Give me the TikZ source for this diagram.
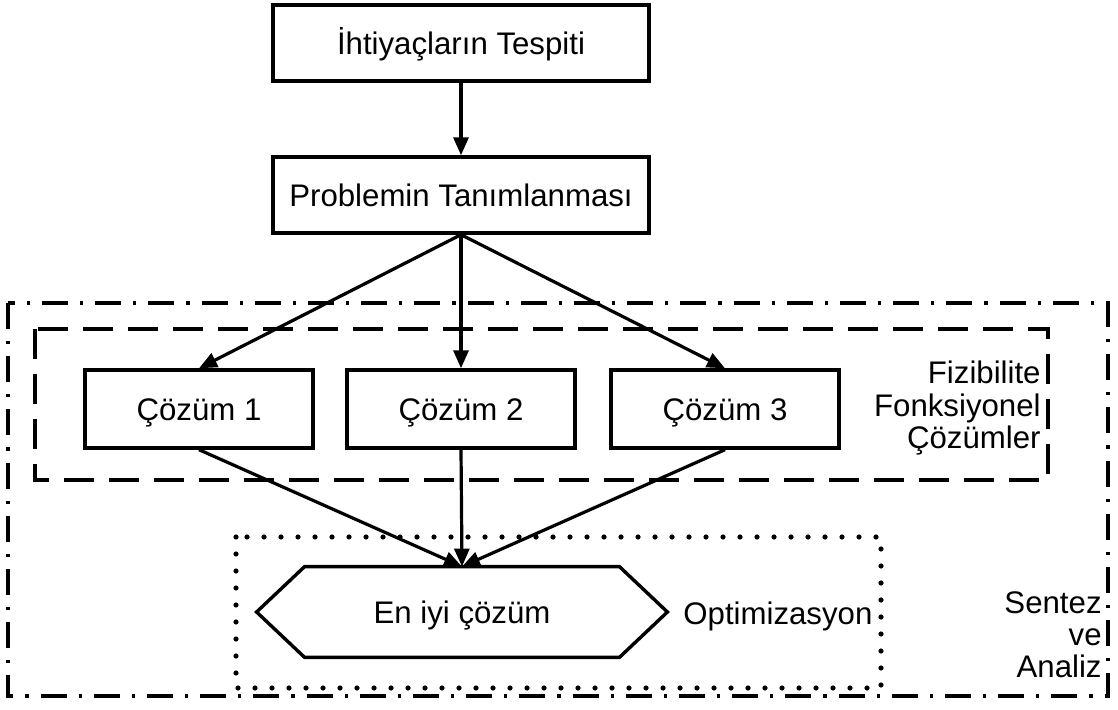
\documentclass[tikz,border=0pt]{standalone}
\usepackage{fontspec}
\setmainfont{Liberation Sans}
\usetikzlibrary{arrows.meta}
\begin{document}
\begin{tikzpicture}[x=0.5pt,y=-0.5pt,
  every node/.style={font=\fontsize{15.6pt}{19pt}\selectfont},
  centred/.style={text height=11.2pt, text depth=0pt},
  box/.style={draw, centred, line width=1.7pt, minimum width=188pt, minimum height=38pt, inner sep=0pt},
  solbox/.style={draw, centred, line width=1.7pt, minimum width=114pt, minimum height=39pt, inner sep=0pt},
  hexbox/.style={centred, minimum width=205pt, minimum height=45pt, inner sep=0pt},
  hexline/.style={line width=1.7pt, line join=miter},
  arr/.style={line width=1.6pt, -{Triangle[length=9pt,width=7.5pt]}},
  dashdotframe/.style={line width=1.6pt, dash pattern=on 13pt off 6pt on 1.6pt off 6pt},
  dashframe/.style={line width=1.6pt, dash pattern=on 15pt off 7.5pt},
  dotframe/.style={line width=2.6pt, line cap=round, dash pattern=on 0pt off 8.5pt},
  lbl/.style={inner sep=0pt}
]
\useasboundingbox (0,0) rectangle (1118,710);

% frames
\draw[dashdotframe] (8,303) rectangle (1108,696);
\draw[dashframe] (35,329) rectangle (1048,480);
\draw[dotframe] (236,537) rectangle (881,688);

% nodes
\node[box] (need) at (461,43) {İhtiyaçların Tespiti};
\node[box] (prob) at (461,195) {Problemin Tanımlanması};
\node[solbox] (c1) at (199,409) {Çözüm 1};
\node[solbox] (c2) at (461,409) {Çözüm 2};
\node[solbox] (c3) at (725,409) {Çözüm 3};
\node[hexbox] (best) at (462,612) {En iyi çözüm};
\draw[hexline] (best.west) -- ([xshift=24pt]best.north west) -- ([xshift=-24pt]best.north east)
  -- (best.east) -- ([xshift=-24pt]best.south east) -- ([xshift=24pt]best.south west) -- cycle;

% labels
\node[lbl, anchor=base east] (fiz) at (1041,384) {Fizibilite};
\node[lbl, anchor=base east] (fonk) at (1041,417) {Fonksiyonel};
\node[lbl, anchor=base east] (coz) at (1041,449) {Çözümler};
\node[lbl, anchor=base west] (opt) at (683,624) {Optimizasyon};
\node[lbl, anchor=base east] (sen) at (1102,613) {Sentez};
\node[lbl, anchor=base east] (ve) at (1102,645) {ve};
\node[lbl, anchor=base east] (ana) at (1102,677) {Analiz};

% connectors
\draw[arr] (need) -- (prob);
\draw[arr] (prob.south) -- (c1.north);
\draw[arr] (prob.south) -- (c2.north);
\draw[arr] (prob.south) -- (c3.north);
\draw[arr] (c1.south) -- (best.north);
\draw[arr] (c2.south) -- (best.north);
\draw[arr] (c3.south) -- (best.north);
\end{tikzpicture}
\end{document}
